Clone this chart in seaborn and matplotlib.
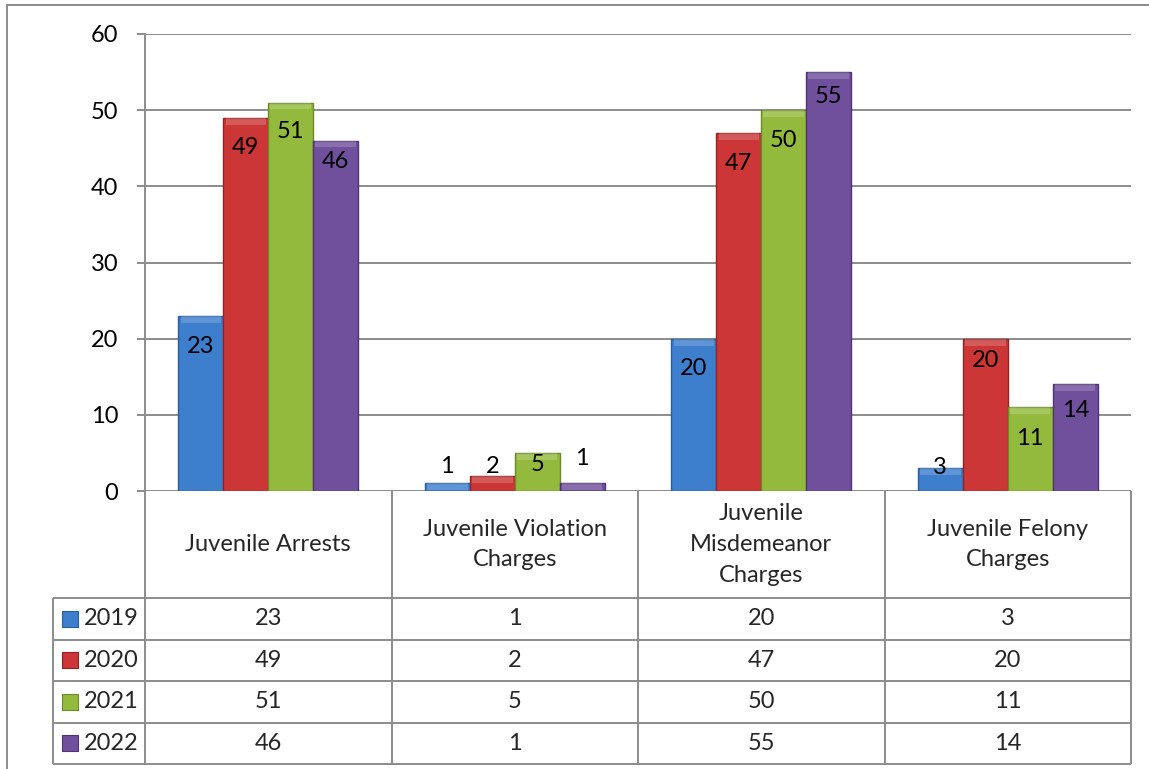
import numpy as np
import pandas as pd
import matplotlib
matplotlib.use("Agg")
import matplotlib.pyplot as plt
from matplotlib.lines import Line2D
import seaborn as sns

# ---------------- data ----------------
categories = ["Juvenile Arrests", "Juvenile Violation Charges",
              "Juvenile Misdemeanor Charges", "Juvenile Felony Charges"]
header_labels = ["Juvenile Arrests", "Juvenile Violation\nCharges",
                 "Juvenile\nMisdemeanor\nCharges", "Juvenile Felony\nCharges"]
years = ["2019", "2020", "2021", "2022"]
values_2019 = [23, 1, 20, 3]
values_2020 = [49, 2, 47, 20]
values_2021 = [51, 5, 50, 11]
values_2022 = [46, 1, 55, 14]
y_ticks = [0, 10, 20, 30, 40, 50, 60]

# style
colors = ["#3d7ecd", "#cc3636", "#93ba3d", "#70509d"]
edge_colors = ["#2a5f9e", "#952222", "#6c8a28", "#4e3475"]
# label drop below bar top (pixels; negative = above the bar)
label_drop_px = [[31, -17, 30, -1],
                 [30, -9, 30, 22],
                 [29, 12, 30, 31],
                 [21, -25, 24, 26]]

series = [values_2019, values_2020, values_2021, values_2022]
df = pd.DataFrame({
    "category": categories * len(years),
    "year": np.repeat(years, len(categories)),
    "value": sum(series, []),
})

W, H, DPI = 1149, 769, 100
sns.set_theme(style="white")
plt.rcParams["font.family"] = ["Lato", "DejaVu Sans"]
FS = 17
GRAY = "#8c8c8c"
LW = 1.4

fig = plt.figure(figsize=(W / DPI, H / DPI), dpi=DPI)
fig.patch.set_facecolor("white")

# plot area in pixels
L, R, T, B = 145, 1131, 34, 491
ax = fig.add_axes([L / W, 1 - B / H, (R - L) / W, (B - T) / H])
sns.barplot(data=df, x="category", y="value", hue="year", order=categories,
            hue_order=years, palette=colors, width=0.73, gap=0,
            saturation=1, legend=False, ax=ax, errorbar=None)
ax.set_xlim(-0.5, len(categories) - 0.5)
ax.set_ylim(0, 60)
ax.set_yticks(y_ticks)
ax.set_xticks([])
ax.set_xlabel("")
ax.set_ylabel("")
for s in ["top", "right", "bottom"]:
    ax.spines[s].set_visible(False)
ax.spines["left"].set_color(GRAY)
ax.spines["left"].set_linewidth(LW)
ax.grid(axis="y", color=GRAY, linewidth=LW)
ax.set_axisbelow(True)
ax.tick_params(axis="y", direction="out", length=5.8, width=LW, color=GRAY,
               pad=13.5, labelsize=FS, labelcolor="black", left=True)

bar_containers = list(ax.containers)[:len(years)]
for hi, cont in enumerate(bar_containers):
    for ci, bar in enumerate(cont):
        bar.set_edgecolor(edge_colors[hi])
        bar.set_linewidth(1.0)
        x = bar.get_x() + bar.get_width() / 2
        h = bar.get_height()
        # bevel highlight strip at top
        hl = min(h, 0.9)
        ax.bar(x, hl, bottom=h - hl, width=bar.get_width() * 0.9,
               color="white", alpha=0.18, linewidth=0, zorder=bar.get_zorder() + 0.1)
        ax.annotate(str(series[hi][ci]), xy=(x, h),
                    xytext=(0, -label_drop_px[hi][ci] * 72 / DPI),
                    textcoords="offset points", ha="center", va="center",
                    fontsize=FS, color="black", zorder=5)

# ---------------- data table ----------------
TL, TB = 53, 764
cat_px = (R - L) / len(categories)
left_units = -0.5 - (L - TL) / cat_px
tax = fig.add_axes([TL / W, 1 - TB / H, (R - TL) / W, (TB - B) / H])
row_px = (TB - 598) / len(years)
header_h = (598 - B) / row_px
top_y = len(years) + header_h
tax.set_xlim(left_units, len(categories) - 0.5)
tax.set_ylim(0, top_y)
tax.axis("off")

for k in range(len(categories) + 1):
    tax.plot([k - 0.5, k - 0.5], [0, top_y], color=GRAY, lw=LW,
             solid_capstyle="butt", clip_on=False)
tax.plot([left_units, left_units], [0, len(years)], color=GRAY, lw=LW,
         solid_capstyle="butt", clip_on=False)
for r in range(len(years) + 1):
    tax.plot([left_units, len(categories) - 0.5], [r, r], color=GRAY, lw=LW,
             solid_capstyle="butt", clip_on=False)

for ci, lab in enumerate(header_labels):
    tax.text(ci, len(years) + header_h / 2, lab, ha="center", va="center",
             fontsize=FS, linespacing=1.58)

for ri, yr in enumerate(years):
    yc = len(years) - ri - 0.5
    tax.plot([left_units + 17 / cat_px], [yc], marker="s", markersize=11,
             color=colors[ri], markeredgecolor=edge_colors[ri],
             markeredgewidth=0.8, clip_on=False)
    tax.text(left_units + 31 / cat_px, yc, yr, ha="left", va="center",
             fontsize=FS)
    for ci in range(len(categories)):
        tax.text(ci, yc, str(series[ri][ci]), ha="center", va="center",
                 fontsize=FS)

# outer chart frame
fig.add_artist(Line2D([7 / W, 7 / W], [0, 1 - 5 / H], color=GRAY, lw=LW,
                      transform=fig.transFigure))
fig.add_artist(Line2D([7 / W, 1], [1 - 5 / H, 1 - 5 / H], color=GRAY, lw=LW,
                      transform=fig.transFigure))

fig.savefig("out.png", dpi=DPI)
